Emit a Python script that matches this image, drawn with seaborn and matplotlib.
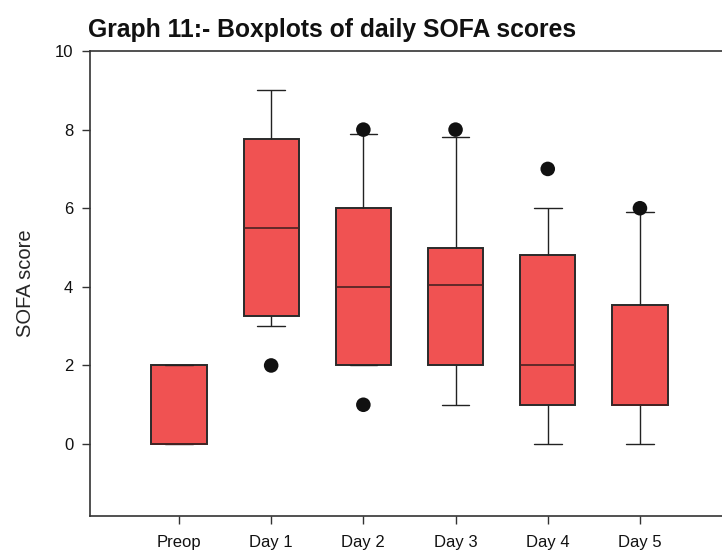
import numpy as np
import pandas as pd
import matplotlib
matplotlib.use("Agg")
import matplotlib.pyplot as plt
import seaborn as sns

# ---- data ----
categories = ["Preop", "Day 1", "Day 2", "Day 3", "Day 4", "Day 5"]
whisker_low = [0.0, 3.0, 2.0, 1.0, 0.0, 0.0]
q1 = [0.0, 3.25, 2.0, 2.0, 1.0, 1.0]
median = [0.0, 5.5, 4.0, 4.05, 2.0, 1.0]
q3 = [2.0, 7.75, 6.0, 5.0, 4.8, 3.55]
whisker_high = [2.0, 9.0, 7.9, 7.8, 6.0, 5.9]
outlier_cat = ["Day 1", "Day 2", "Day 2", "Day 3", "Day 4", "Day 5"]
outlier_val = [2.0, 8.0, 1.0, 8.0, 7.0, 6.0]

# five-number summaries as a long table (quartiles of 5 points = q1/q3 exactly)
rows = []
for c, lo, a, m, b, hi in zip(categories, whisker_low, q1, median, q3, whisker_high):
    for v in (lo, a, m, b, hi):
        rows.append({"stage": c, "score": v})
df = pd.DataFrame(rows)
out_df = pd.DataFrame({"stage": outlier_cat, "score": outlier_val})

sns.set_style("ticks")
plt.rcParams["font.family"] = ["Liberation Sans", "DejaVu Sans"]

fig = plt.figure(figsize=(7.22, 5.51), dpi=100)
ax = fig.add_axes([90 / 722, 35 / 551, 1 - 90 / 722, (516 - 51) / 551])

sns.boxplot(data=df, x="stage", y="score", order=categories, ax=ax,
            whis=(0, 100), width=0.6, color="#f05252", saturation=1,
            linecolor="#222222", linewidth=1.0, showfliers=False,
            boxprops=dict(linewidth=1.4, edgecolor="#2a2a2a"),
            medianprops=dict(color="#4a2222", linewidth=1.2),
            whiskerprops=dict(color="#222222", linewidth=1.0),
            capprops=dict(color="#222222", linewidth=1.0))

sns.scatterplot(data=out_df, x="stage", y="score", ax=ax, color="#111111",
                s=110, edgecolor="none", zorder=5, legend=False)

ax.set_xlim(-0.965, 5.89)
ax.set_ylim(-1.83, 10)
ax.set_yticks([0, 2, 4, 6, 8, 10])
ax.set_yticklabels(["0", "2", "4", "6", "8", "10"])
ax.set_xlabel("")
ax.set_ylabel("SOFA score", fontsize=14.5, labelpad=14)
ax.tick_params(axis="both", labelsize=12, length=6, width=1, color="#333333",
               labelcolor="#111111")
ax.tick_params(axis="x", pad=8)
ax.tick_params(axis="y", pad=6)

for s in ["left", "bottom", "top"]:
    ax.spines[s].set_visible(True)
    ax.spines[s].set_color("#333333")
    ax.spines[s].set_linewidth(1.2)
ax.spines["right"].set_visible(False)

fig.text(88 / 722, 1 - 37 / 551, "Graph 11:- Boxplots of daily SOFA scores",
         fontsize=17.8, fontweight="bold", va="baseline", ha="left", color="#111111")

fig.savefig("out.png", dpi=100)
